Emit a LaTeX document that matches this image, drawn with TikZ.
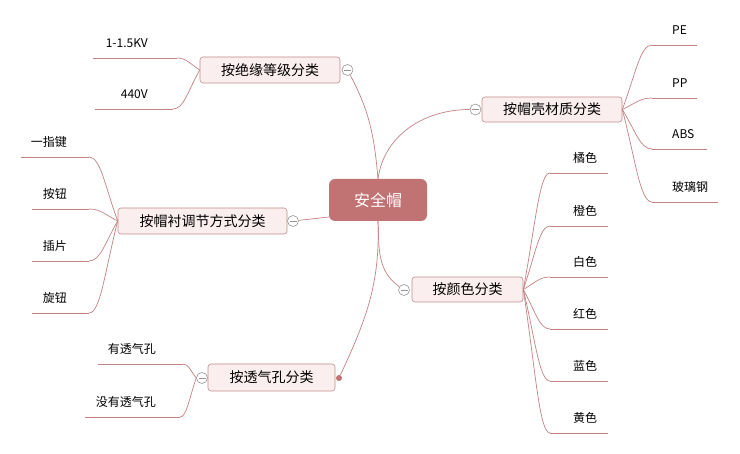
\documentclass[tikz,border=0pt]{standalone}
\usepackage{fontspec}
\setmainfont{Noto Sans CJK SC}
\usetikzlibrary{calc}
\definecolor{linecol}{RGB}{196,130,130}
\definecolor{boxfill}{RGB}{250,238,238}
\definecolor{boxdraw}{RGB}{196,140,140}
\definecolor{centerfill}{RGB}{193,114,114}
\definecolor{btngray}{RGB}{150,150,150}
\newcommand\lfcurve[2]{\draw[link] let \p1=(#1), \p2=(#2) in (\p1) .. controls ({\x1+0.45*(\x2-\x1)},{\y1+0.55*(\y2-\y1)}) and ({\x1+0.6*(\x2-\x1)},{\y2}) .. (\p2);}
\newcommand\mkleaf[8]{%
  \coordinate (#2i) at (#3,#5);
  \coordinate (#2o) at (#4,#5);
  \node[leaf, anchor=#6] (#2) at (#7,#5-15) {#8};
  \lfcurve{#1}{#2i}
  \draw[link] (#2i) -- (#2o);}
\begin{document}
\begin{tikzpicture}[x=1pt,y=-1pt,
  link/.style={draw=linecol, line width=0.7pt},
  center/.style={fill=centerfill, rounded corners=6pt, minimum width=98pt, minimum height=42pt, inner sep=0pt, text=white, font=\fontsize{16}{18}\selectfont},
  branch/.style={draw=boxdraw, fill=boxfill, rounded corners=3pt, minimum height=26pt, inner sep=0pt, line width=0.6pt, font=\fontsize{14}{16}\selectfont},
  leaf/.style={inner sep=0pt, font=\fontsize{12}{14}\selectfont},
  fold/.style={circle, draw=btngray, fill=white, minimum size=11pt, inner sep=0pt, line width=0.6pt,
    path picture={\draw[btngray, line width=0.6pt] ([xshift=-3.5pt]path picture bounding box.center) -- ([xshift=3.5pt]path picture bounding box.center);}},
  dotmark/.style={circle, fill=centerfill, minimum size=6pt, inner sep=0pt}]
\fill[white] (0,0) rectangle (740,454);
\useasboundingbox (0,0) rectangle (740,454);

% central
\node[center] (C) at (378,200) {安全帽};

% branches
\node[branch, minimum width=140pt] (B1) at (270,70) {按绝缘等级分类};
\node[branch, minimum width=140pt, minimum height=25pt] (B2) at (552,109.5) {按帽壳材质分类};
\node[branch, minimum width=169pt] (B3) at (202.5,221) {按帽衬调节方式分类};
\node[branch, minimum width=127pt, minimum height=27pt] (B4) at (271.5,377.5) {按透气孔分类};
\node[branch, minimum width=111pt, minimum height=25pt] (B5) at (467.5,289.5) {按颜色分类};

% fold buttons
\node[fold] (f1) at (347.5,70) {};
\node[fold] (f2) at (475.5,109.5) {};
\node[fold] (f3) at (293,221) {};
\node[fold] (f4) at (202,378) {};
\node[fold] (f5) at (404,290) {};
\node[dotmark] (d4) at (339,378) {};

% main connectors
\draw[link] (f1) to[out=-62, in=95] (C.north);
\draw[link] (C.north) to[out=82, in=180] (f2);
\draw[link] (f3) -- ([yshift=-17pt]C.west);
\draw[link] (C.south) to[out=-88, in=65] (d4);
\draw[link] (C.south) to[out=-88, in=145] (f5);

% leaves of B1
\mkleaf{B1.west}{l11}{177}{93}{58}{east}{148}{1-1.5KV}
\mkleaf{B1.west}{l12}{173}{95}{109}{east}{148}{440V}

% leaves of B2
\mkleaf{B2.east}{l21}{652}{697}{45}{west}{672}{PE}
\mkleaf{B2.east}{l22}{652}{697}{98}{west}{672}{PP}
\mkleaf{B2.east}{l23}{652}{707}{149}{west}{672}{ABS}
\mkleaf{B2.east}{l24}{652}{718}{202}{west}{672}{玻璃钢}

% leaves of B3
\mkleaf{B3.west}{l31}{89}{21}{157}{east}{67}{一指键}
\mkleaf{B3.west}{l32}{89}{32}{209}{east}{67}{按钮}
\mkleaf{B3.west}{l33}{89}{32}{261}{east}{67}{插片}
\mkleaf{B3.west}{l34}{89}{32}{313}{east}{67}{旋钮}

% leaves of B4
\mkleaf{f4.west}{l41}{183}{98}{364}{east}{156}{有透气孔}
\mkleaf{f4.west}{l42}{180}{85}{417}{east}{156}{没有透气孔}

% leaves of B5
\mkleaf{B5.east}{l51}{550}{608}{173}{west}{573}{橘色}
\mkleaf{B5.east}{l52}{550}{608}{226}{west}{573}{橙色}
\mkleaf{B5.east}{l53}{550}{608}{277}{west}{573}{白色}
\mkleaf{B5.east}{l54}{550}{608}{329}{west}{573}{红色}
\mkleaf{B5.east}{l55}{550}{608}{381}{west}{573}{蓝色}
\mkleaf{B5.east}{l56}{550}{608}{433}{west}{573}{黄色}
\end{tikzpicture}
\end{document}
